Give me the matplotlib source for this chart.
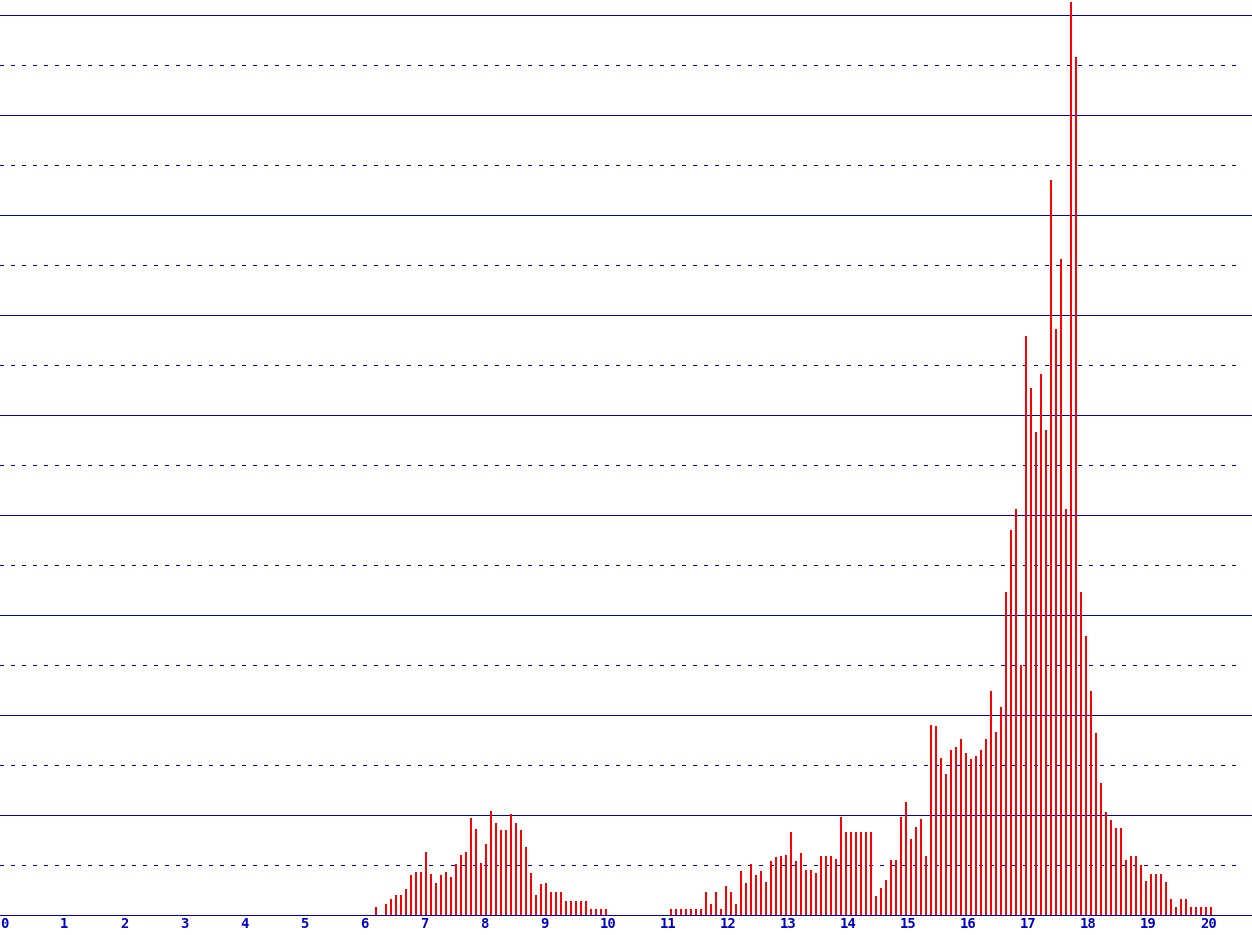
import numpy as np
import matplotlib
matplotlib.use("Agg")
import matplotlib.pyplot as plt

# ---- data -------------------------------------------------------------
bin_width = 1 / 12          # histogram bin width (x units)

group1_start = 6.25
group1_heights = [0.83, 0, 1.13, 1.63, 2.0, 2.0, 2.63, 4.0, 4.3, 4.3,
                  6.33, 4.1, 3.2, 4.0, 4.3, 3.8, 5.1, 6.0, 6.33, 9.73,
                  8.6, 5.23, 7.13, 10.43, 9.23, 8.5, 8.5, 10.13, 9.23, 8.5,
                  6.8, 4.2, 2.0, 3.1, 3.2, 2.3, 2.3, 2.3, 1.4, 1.4,
                  1.4, 1.4, 1.4, 0.6, 0.6, 0.6, 0.6]

group2_start = 11 + 2 / 12
group2_heights = [0.6, 0.6, 0.6, 0.6, 0.6, 0.6, 0.6,
                  2.3, 1.1, 2.3, 0.6, 2.9, 2.3, 1.1, 4.4, 3.2, 5.1, 4.0, 4.4, 3.3,
                  5.4, 5.8, 5.9, 6.0, 8.3, 5.4, 6.2, 4.5, 4.5, 4.2,
                  5.9, 5.9, 5.9, 5.6, 9.8, 8.3, 8.3, 8.3, 8.3, 8.3, 8.3,
                  1.9, 2.7, 3.5, 5.5, 5.5, 9.8, 11.3, 7.6, 8.8, 9.6, 5.9,
                  19.0, 18.9, 15.7, 14.1, 16.5, 16.8, 17.6, 16.2, 15.6, 15.9,
                  16.5, 17.6, 22.4, 18.3, 20.8,
                  32.3, 38.5, 40.65, 25.0, 57.9, 52.7, 48.3, 54.1, 48.5, 73.5,
                  58.6, 65.6, 40.65, 91.3, 85.8, 32.3, 27.9, 22.4, 18.2, 13.2,
                  10.3, 9.5, 8.7, 8.7, 5.5, 5.9, 5.9, 5.0, 3.4, 4.1,
                  4.1, 4.1, 3.3, 1.6, 0.8, 1.6, 1.6, 0.8, 0.8, 0.8,
                  0.8, 0.8]

tick_values = list(range(0, 21))
tick_labels = [str(v) for v in tick_values]
major_lines = [0, 10, 20, 30, 40, 50, 60, 70, 80, 90]
minor_lines = [5, 15, 25, 35, 45, 55, 65, 75, 85]

# ---- figure -----------------------------------------------------------
W, H, DPI = 1252, 935, 100
fig = plt.figure(figsize=(W / DPI, H / DPI), dpi=DPI, facecolor="white")
ax = fig.add_axes([0, 20 / H, 1, 915 / H])
ax.set_xlim(0, W / 60)
ax.set_ylim(0, 91.5)
for s in ax.spines.values():
    s.set_visible(False)

line_col = "#0000cc"
px = 72 / DPI  # one pixel in points

for y in major_lines:
    ax.axhline(y, color=line_col, lw=px, zorder=1, clip_on=False,
               antialiased=False)
for y in minor_lines:
    ax.plot([0, 1242 / 60], [y, y], color=line_col, lw=px,
            linestyle=(0, (3, 7)), zorder=1, antialiased=False)

x1 = group1_start + np.arange(len(group1_heights)) * bin_width
x2 = group2_start + np.arange(len(group2_heights)) * bin_width
for xs, hs in ((x1, group1_heights), (x2, group2_heights)):
    ax.bar(xs, hs, width=2 / 60, align="edge", color="#ff0000",
           linewidth=0, zorder=3, antialiased=False)

ax.set_yticks([])
ax.set_xticks(tick_values)
ax.set_xticklabels(tick_labels, ha="left", color=line_col, fontsize=10,
                   family="DejaVu Sans Mono", fontweight="bold")
ax.tick_params(axis="x", length=0, pad=1.5)

fig.savefig("out.png", dpi=DPI, facecolor="white")
